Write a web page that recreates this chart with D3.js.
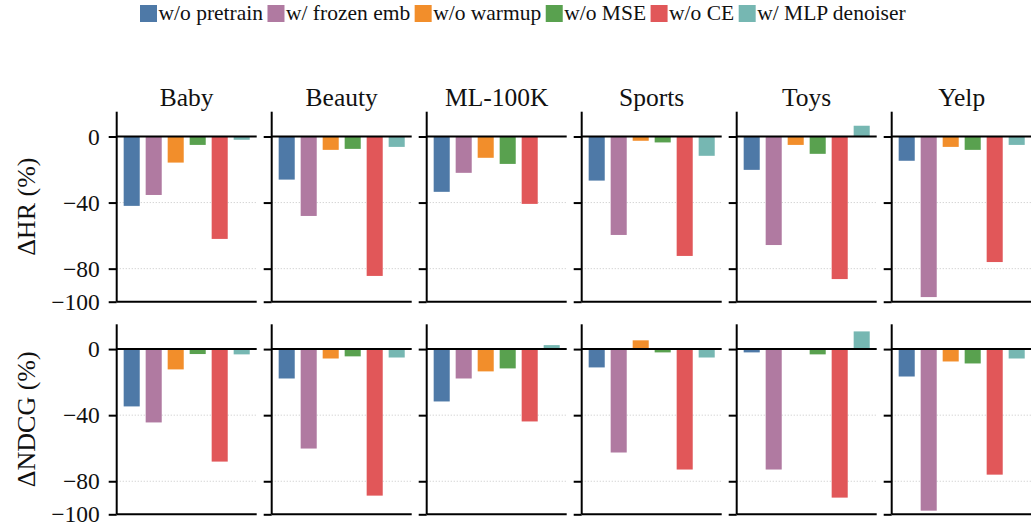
<!DOCTYPE html>
<html>
<head>
<meta charset="utf-8">
<script src="https://cdn.jsdelivr.net/npm/d3@7"></script>
<style>
  html, body { margin: 0; padding: 0; background: #fff; }
</style>
</head>
<body>
<svg id="chart" width="1031" height="529"></svg>
<script>
// Datasets (panels) and ablation variants (bars)
const datasets = ["Baby", "Beauty", "ML-100K", "Sports", "Toys", "Yelp"];
const variants = ["w/o pretrain", "w/ frozen emb", "w/o warmup", "w/o MSE", "w/o CE", "w/ MLP denoiser"];
const colors = ["#4e79a7", "#b07aa1", "#f28e2b", "#59a14f", "#e15759", "#76b7b2"];

// Relative change in HR (%) per dataset, one value per variant
const hrBaby    = [-42.0, -35.4, -15.8, -5.1, -62.0, -2.0];
const hrBeauty  = [-26.1, -48.1, -8.1, -7.5, -84.4, -6.3];
const hrML100K  = [-33.5, -22.0, -12.9, -16.6, -40.8, 0.0];
const hrSports  = [-26.7, -59.6, -2.6, -3.6, -72.3, -11.7];
const hrToys    = [-20.2, -65.7, -5.1, -10.5, -86.3, 6.5];
const hrYelp    = [-14.7, -97.2, -6.3, -8.1, -76.0, -5.1];

// Relative change in NDCG (%) per dataset
const ndcgBaby   = [-34.7, -44.4, -12.3, -3.0, -68.1, -3.2];
const ndcgBeauty = [-17.8, -60.2, -5.7, -4.4, -88.7, -5.1];
const ndcgML100K = [-31.7, -17.8, -13.5, -11.7, -43.8, 2.4];
const ndcgSports = [-11.1, -62.6, 5.3, -2.0, -72.9, -5.1];
const ndcgToys   = [-2.0, -72.9, -0.3, -3.2, -89.9, 10.7];
const ndcgYelp   = [-16.6, -97.8, -7.5, -8.7, -76.0, -5.7];

const yTicks = [0, -40, -80, -100];
const gridTicks = [-40, -80];

const FONT = '"Liberation Serif"';

const rows = [
  { label: "\u0394HR (%)", values: [hrBaby, hrBeauty, hrML100K, hrSports, hrToys, hrYelp], top: 111.7 },
  { label: "\u0394NDCG (%)", values: [ndcgBaby, ndcgBeauty, ndcgML100K, ndcgSports, ndcgToys, ndcgYelp], top: 324.3 }
];

const svg = d3.select("#chart");
const panelW = 140, panelH = 190, panelGap = 15, firstLeft = 116.7;

const x = d3.scaleBand().domain(variants).range([0, panelW]).paddingInner(0.27).paddingOuter(0.317);
const y = d3.scaleLinear().domain([-100, 15]).range([panelH, 0]);

rows.forEach((row, ri) => {
  datasets.forEach((ds, di) => {
    const g = svg.append("g")
      .attr("transform", `translate(${firstLeft + di * (panelW + panelGap)},${row.top})`);

    // dotted grid
    g.selectAll("line.grid").data(gridTicks).join("line")
      .attr("class", "grid")
      .attr("x1", 0).attr("x2", panelW)
      .attr("y1", d => y(d)).attr("y2", d => y(d))
      .attr("stroke", "#cfcfcf").attr("stroke-width", 1)
      .attr("stroke-dasharray", "1.2,1.8");

    // bars
    const vals = row.values[di];
    g.selectAll("rect.bar").data(variants).join("rect")
      .attr("class", "bar")
      .attr("x", d => x(d))
      .attr("width", x.bandwidth())
      .attr("y", (d, i) => y(Math.max(0, vals[i])))
      .attr("height", (d, i) => Math.abs(y(vals[i]) - y(0)))
      .attr("fill", (d, i) => colors[i]);

    // zero reference line
    g.append("line")
      .attr("x1", 0).attr("x2", panelW)
      .attr("y1", y(0)).attr("y2", y(0))
      .attr("stroke", "#000").attr("stroke-width", 2);

    // left axis
    const axis = d3.axisLeft(y).tickValues(yTicks).tickSize(8).tickPadding(9)
      .tickFormat(di === 0 ? (d => d < 0 ? "\u2212" + Math.abs(d) : String(d)) : () => "");
    const ag = g.append("g").call(axis).attr("font-family", null).attr("font-size", null);
    ag.select(".domain").attr("stroke", "#000").attr("stroke-width", 2)
      .attr("d", `M0,0V${panelH}`);
    ag.selectAll(".tick line").attr("stroke", "#000").attr("stroke-width", 2);
    ag.selectAll(".tick text")
      .attr("fill", "#111")
      .style("font-family", FONT)
      .style("font-size", "23.5px");

    // bottom spine
    g.append("line")
      .attr("x1", 0).attr("x2", panelW)
      .attr("y1", panelH).attr("y2", panelH)
      .attr("stroke", "#000").attr("stroke-width", 2);

    // dataset title (top row only)
    if (ri === 0) {
      g.append("text")
        .attr("x", panelW / 2).attr("y", -6)
        .attr("text-anchor", "middle")
        .style("font-family", FONT)
        .style("font-size", "25.5px").attr("fill", "#111")
        .text(ds);
    }
  });

  // row label
  const cy = row.top + panelH / 2;
  svg.append("text")
    .attr("transform", `translate(35,${cy}) rotate(-90)`)
    .attr("text-anchor", "middle")
    .style("font-family", FONT)
    .style("font-size", "26px").attr("fill", "#111")
    .text(row.label);
});

// legend
const legend = svg.append("g");
let lx = 140;
variants.forEach((v, i) => {
  legend.append("rect")
    .attr("x", lx).attr("y", 5).attr("width", 17).attr("height", 17)
    .attr("fill", colors[i]);
  const t = legend.append("text")
    .attr("x", lx + 18.5).attr("y", 20)
    .style("font-family", FONT)
    .style("font-size", "21.5px").attr("fill", "#111")
    .text(v);
  lx = lx + 18.5 + t.node().getComputedTextLength() + 4.5;
});
</script>
</body>
</html>
